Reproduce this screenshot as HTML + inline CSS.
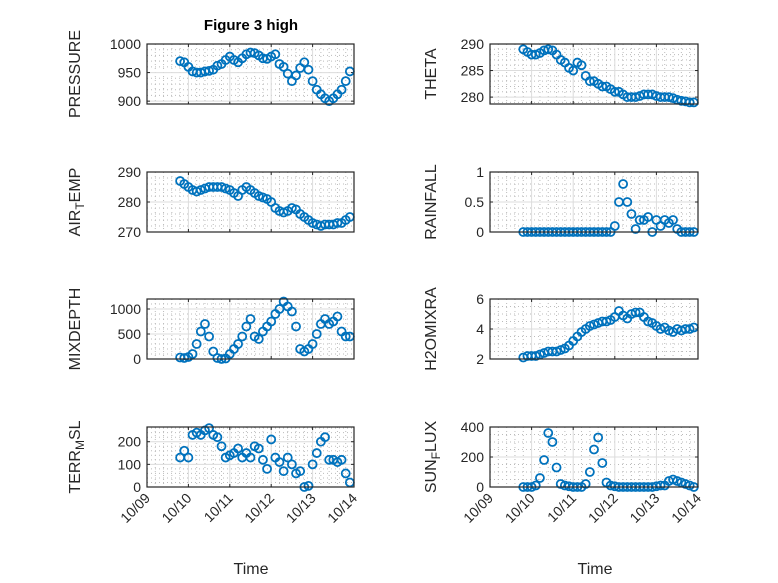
<!DOCTYPE html>
<html><head><meta charset="utf-8"><style>
body{margin:0;background:#fff}
svg{display:block;font-family:"Liberation Sans",sans-serif}
</style></head><body>
<svg id="fig" width="778" height="583">
<rect width="778" height="583" fill="#fff"/>
<text x="251" y="30" text-anchor="middle" font-weight="bold" font-size="15" fill="#000">Figure 3 high</text>
</svg>
<script>
const times=[0.8,0.9,1.0,1.1,1.2,1.3,1.4,1.5,1.6,1.7,1.8,1.9,2.0,2.1,2.2,2.3,2.4,2.5,2.6,2.7,2.8,2.9,3.0,3.1,3.2,3.3,3.4,3.5,3.6,3.7,3.8,3.9,4.0,4.1,4.2,4.3,4.4,4.5,4.6,4.7,4.8,4.9];
const xTickLabels=["10/09","10/10","10/11","10/12","10/13","10/14"];
const pressure=[970,968,960,952,950,950,952,953,955,962,965,972,978,972,968,975,982,985,984,980,975,974,978,982,965,960,948,935,945,958,968,955,935,920,912,905,900,905,912,920,935,952];
const airTemp=[287,286,285,284,283.5,284,284.5,285,285,285,285,284.5,284,283,282,284,285,284,283,282,281.5,281,280,278,277,276.5,277,278,277.5,276,275,274,273,272.5,272,272.5,272.5,272.5,273,273,274,275];
const mixDepth=[30,20,40,100,300,550,700,450,150,20,0,10,100,200,300,450,650,800,450,400,550,650,750,900,1000,1150,1050,950,650,200,150,200,300,500,700,800,700,750,850,550,450,450];
const terrMsl=[130,160,130,230,240,230,250,260,230,220,180,130,140,150,170,130,150,130,180,170,120,80,210,130,110,70,130,100,60,70,0,5,100,150,200,220,120,120,110,120,60,20];
const theta=[289,288.5,288,288,288.3,288.8,289,288.8,288,287,286.5,285.5,285,286.5,286,284,283,283,282.5,282,282,281.5,281,281,280.5,280,280,280,280.2,280.5,280.5,280.5,280.2,280,280,280,279.8,279.5,279.3,279.2,279,279];
const rainfall=[0,0,0,0,0,0,0,0,0,0,0,0,0,0,0,0,0,0,0,0,0,0,0.1,0.5,0.8,0.5,0.3,0.05,0.2,0.2,0.25,0,0.2,0.1,0.2,0.15,0.2,0.05,0,0,0,0];
const h2o=[2.1,2.2,2.2,2.2,2.3,2.4,2.5,2.5,2.5,2.6,2.7,2.9,3.2,3.5,3.8,4.0,4.2,4.3,4.4,4.5,4.5,4.6,4.8,5.2,4.9,4.7,5.0,5.1,5.1,4.8,4.5,4.4,4.2,4.0,4.1,3.9,3.8,4.0,3.9,4.0,4.0,4.1];
const sunFlux=[0,0,0,10,60,180,360,300,130,20,10,5,0,0,0,20,100,250,330,160,30,10,5,0,0,0,0,0,0,0,0,0,5,10,10,40,50,40,30,20,10,0];
const pressureTicks=[900,950,1000], airTicks=[270,280,290], mixTicks=[0,500,1000], terrTicks=[0,100,200];
const thetaTicks=[280,285,290], rainTicks=[0,0.5,1], h2oTicks=[2,4,6], sunTicks=[0,200,400];

const NS="http://www.w3.org/2000/svg";
const svg=document.getElementById('fig');
function mk(tag,attrs,parent){const e=document.createElementNS(NS,tag);for(const k in attrs)e.setAttribute(k,attrs[k]);(parent||svg).appendChild(e);return e;}
const cols=[{x0:147,x1:354,lx:80},{x0:490,x1:698,lx:436}];
const rows=[{y0:44,y1:104},{y0:172,y1:232},{y0:299,y1:359},{y0:427,y1:487}];
const panels=[
 {c:0,r:0,name:'pressure',data:pressure,ticks:pressureTicks,yl:[895,1000],minor:10,label:['PRESSURE']},
 {c:0,r:1,name:'air-temp',data:airTemp,ticks:airTicks,yl:[270,290],minor:2,label:['AIR','T','EMP']},
 {c:0,r:2,name:'mixdepth',data:mixDepth,ticks:mixTicks,yl:[0,1200],minor:100,label:['MIXDEPTH']},
 {c:0,r:3,name:'terr-msl',data:terrMsl,ticks:terrTicks,yl:[0,265],minor:20,label:['TERR','M','SL']},
 {c:1,r:0,name:'theta',data:theta,ticks:thetaTicks,yl:[278.7,290],minor:1,label:['THETA']},
 {c:1,r:1,name:'rainfall',data:rainfall,ticks:rainTicks,yl:[0,1],minor:0.1,label:['RAINFALL']},
 {c:1,r:2,name:'h2omixra',data:h2o,ticks:h2oTicks,yl:[2,6],minor:0.5,label:['H2OMIXRA']},
 {c:1,r:3,name:'sun-flux',data:sunFlux,ticks:sunTicks,yl:[0,400],minor:50,label:['SUN','F','LUX']}
];
panels.forEach(p=>{
 const C=cols[p.c],R=rows[p.r];
 const g=mk('g',{});
 
 
 const xs=t=>C.x0+(t/5)*(C.x1-C.x0);
 const ys=v=>R.y1-(v-p.yl[0])/(p.yl[1]-p.yl[0])*(R.y1-R.y0);
 for(let i=0;i<=25;i++){if(i%5===0)continue;const x=xs(i*0.2);
  const l=mk('line',{x1:x,x2:x,y1:R.y0,y2:R.y1,stroke:'#bbb','stroke-width':1,'stroke-dasharray':'1,3'},g);
  }
 for(let v=Math.ceil(p.yl[0]/p.minor)*p.minor;v<=p.yl[1]+1e-9;v+=p.minor){
  if(p.ticks.some(t=>Math.abs(t-v)<1e-6))continue;const y=ys(v);
  const l=mk('line',{x1:C.x0,x2:C.x1,y1:y,y2:y,stroke:'#bbb','stroke-width':1,'stroke-dasharray':'1,3'},g);
  }
 xTickLabels.forEach((lab,i)=>{const x=xs(i);
  const l=mk('line',{x1:x,x2:x,y1:R.y0,y2:R.y1,stroke:'#dcdcdc','stroke-width':1},g);
  
  mk('line',{x1:x,x2:x,y1:R.y1,y2:R.y1-3,stroke:'#262626'},g);
  mk('line',{x1:x,x2:x,y1:R.y0,y2:R.y0+3,stroke:'#262626'},g);
  if(p.r===3){const t=mk('text',{x:x+4,y:R.y1+12,'text-anchor':'end','font-size':14,fill:'#262626',transform:`rotate(-45 ${x+4} ${R.y1+12})`},g);
   t.textContent=lab;}
 });
 p.ticks.forEach(v=>{const y=ys(v);
  const l=mk('line',{x1:C.x0,x2:C.x1,y1:y,y2:y,stroke:'#dcdcdc','stroke-width':1},g);
  
  mk('line',{x1:C.x0,x2:C.x0+3,y1:y,y2:y,stroke:'#262626'},g);
  mk('line',{x1:C.x1,x2:C.x1-3,y1:y,y2:y,stroke:'#262626'},g);
  const t=mk('text',{x:C.x0-6,y:y+5,'text-anchor':'end','font-size':14,fill:'#262626'},g);
  t.textContent=String(v);});
 p.data.forEach((v,i)=>{const c=mk('circle',{cx:xs(times[i]),cy:ys(v),r:4,fill:'none',stroke:'#0072BD','stroke-width':1.8},g);
  });
 const box=mk('rect',{x:C.x0,y:R.y0,width:C.x1-C.x0,height:R.y1-R.y0,fill:'none',stroke:'#262626','stroke-width':1.2},g);
 
 const cy=(R.y0+R.y1)/2;
 const t=mk('text',{x:C.lx,y:cy,'text-anchor':'middle','font-size':16,fill:'#262626',transform:`rotate(-90 ${C.lx} ${cy})`},g);
 
 if(p.label.length===1)t.textContent=p.label[0];
 else{const a=mk('tspan',{},t);a.textContent=p.label[0];
  const b=mk('tspan',{dy:4,'font-size':12},t);b.textContent=p.label[1];
  const c=mk('tspan',{dy:-4},t);c.textContent=p.label[2];}
});
[[251,'left'],[595,'right']].forEach(([x,n])=>{const t=mk('text',{x:x,y:574,'text-anchor':'middle','font-size':16,fill:'#262626'});
 t.textContent='Time';});
</script>
</body></html>
